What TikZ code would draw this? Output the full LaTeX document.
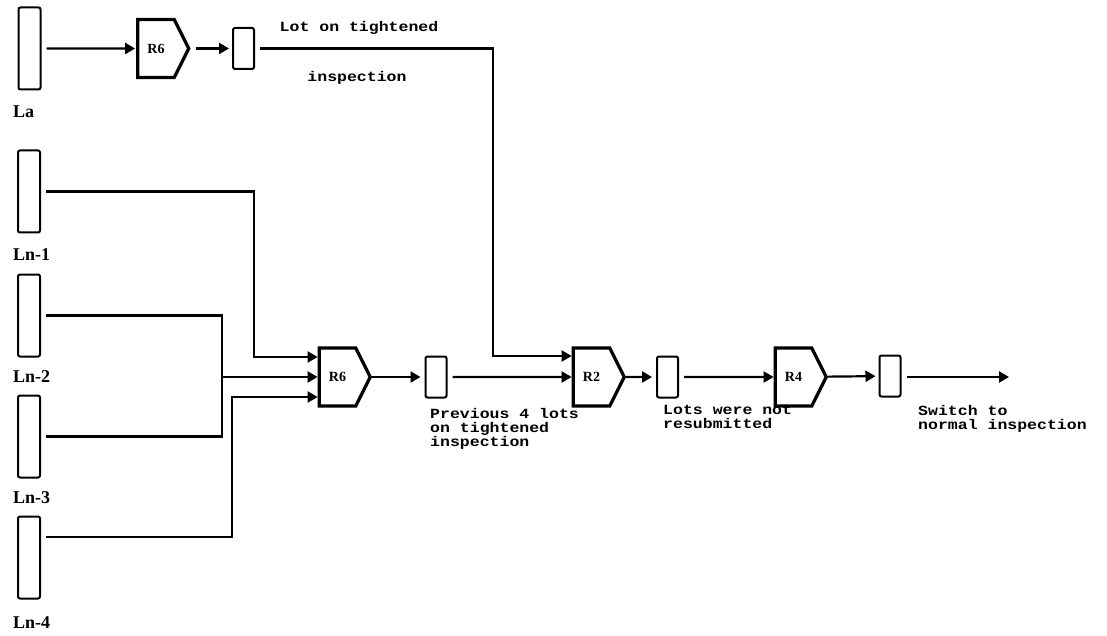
\documentclass[tikz,border=0pt]{standalone}
\usepackage{fontspec}
\usepackage{tikz}
\usetikzlibrary{
    arrows.meta,
    positioning,
    calc,
    shapes.symbols
}
\newfontfamily\notefont[FakeStretch=1.18]{Liberation Mono}
\newfontfamily\lblfont{Liberation Serif}
\tikzset{
  lotbox/.style  = {draw, line width=2pt, rounded corners=2pt, inner sep=0pt,
                    minimum width=22pt, minimum height=82pt},
  tagbox/.style  = {draw, line width=2pt, rounded corners=2pt, inner sep=0pt,
                    minimum width=21pt, minimum height=41pt},
  gate/.style    = {draw, line width=3.2pt, signal, signal to=east,
                    signal pointer angle=127, inner sep=0pt,
                    minimum width=51pt, minimum height=58pt,
                    font=\lblfont\bfseries\fontsize{14}{14}\selectfont},
  lotlbl/.style  = {anchor=west, inner sep=0pt,
                    font=\lblfont\bfseries\fontsize{18}{18}\selectfont},
  note/.style    = {anchor=north west, inner sep=0pt, align=left,
                    font=\notefont\bfseries\fontsize{14}{14}\selectfont},
  wire/.style    = {line width=2.2pt, shorten <=5pt},
  arr/.style     = {wire, -{Triangle[length=10pt,width=11pt]}}
}

\begin{document}
\begin{tikzpicture}[x=1pt, y=-1pt]
\useasboundingbox (0,0) rectangle (1107,636);

%% --- lots ---
\node[lotbox] (La)  at (29.5,48.5)  {};
\node[lotbox] (Ln1) at (29,191.5)   {};
\node[lotbox] (Ln2) at (29,315.5)   {};
\node[lotbox] (Ln3) at (29,436.5)   {};
\node[lotbox] (Ln4) at (29,557.5)   {};

\node[lotlbl] (LaL)  at (13,112) {La};
\node[lotlbl] (Ln1L) at (13,255) {Ln-1};
\node[lotlbl] (Ln2L) at (13,377) {Ln-2};
\node[lotlbl] (Ln3L) at (13,498) {Ln-3};
\node[lotlbl] (Ln4L) at (13,623) {Ln-4};

%% --- top row ---
\node[gate]   (R6a) at (156,48.5) {R6};
\node[tagbox] (T1)  at (243.5,48.5) {};
\node[note, anchor=center] (TopA) at (359,28) {Lot on tightened};
\node[note, anchor=center] (TopB) at (357,78) {inspection};

%% --- main row ---
\node[gate]   (R6b) at (337.5,377) {R6};
\node[tagbox] (P1)  at (436,377)   {};
\node[gate]   (R2)  at (591.5,377) {R2};
\node[tagbox] (P2)  at (667.5,377) {};
\node[gate]   (R4)  at (793.5,377) {R4};
\node[tagbox] (P3)  at (890,376)   {};
\coordinate   (End) at (1009,377);

\node[note] (N1) at (430,408) {Previous 4 lots\\on tightened\\inspection};
\node[note] (N2) at (663,405) {Lots were not\\resubmitted};
\node[note] (N3) at (918,405) {Switch to\\normal inspection};

%% --- bends ---
\coordinate (k0) at (493,356);
\coordinate (k1) at (254,357);
\coordinate (k2) at (222,377);
\coordinate (k3) at (232,397);
\coordinate (k4) at (232,537);

%% --- top row arrows ---
\draw[arr, shorten >=1pt] (La) -- (R6a);
\draw[arr, shorten >=3pt] (R6a) -- (T1);
\draw[arr] (T1.east) -| (k0) -- (R2.west |- k0);

%% --- inputs to R6 ---
\draw[arr] (Ln1.east) -| (k1) -- (R6b.west |- k1);
\draw[wire] (Ln2.east) -| (k2);
\draw[wire] (Ln3.east) -| (k2);
\draw[arr, shorten <=0pt] (k2) -- (R6b.west |- k2);
\draw[arr] (Ln4.east |- k4) -| (k3) -- (R6b.west |- k3);

%% --- main row arrows ---
\draw[arr, shorten <=0pt, shorten >=4pt] (R6b) -- (P1);
\draw[arr] (P1) -- (R2);
\draw[arr, shorten <=0pt, shorten >=4pt] (R2) -- (P2);
\draw[arr] (P2) -- (R4);
\draw[arr, shorten <=0pt, shorten >=3pt] (R4) -- (P3);
\draw[arr] (P3.east |- End) -- (End);

\end{tikzpicture}
\end{document}
